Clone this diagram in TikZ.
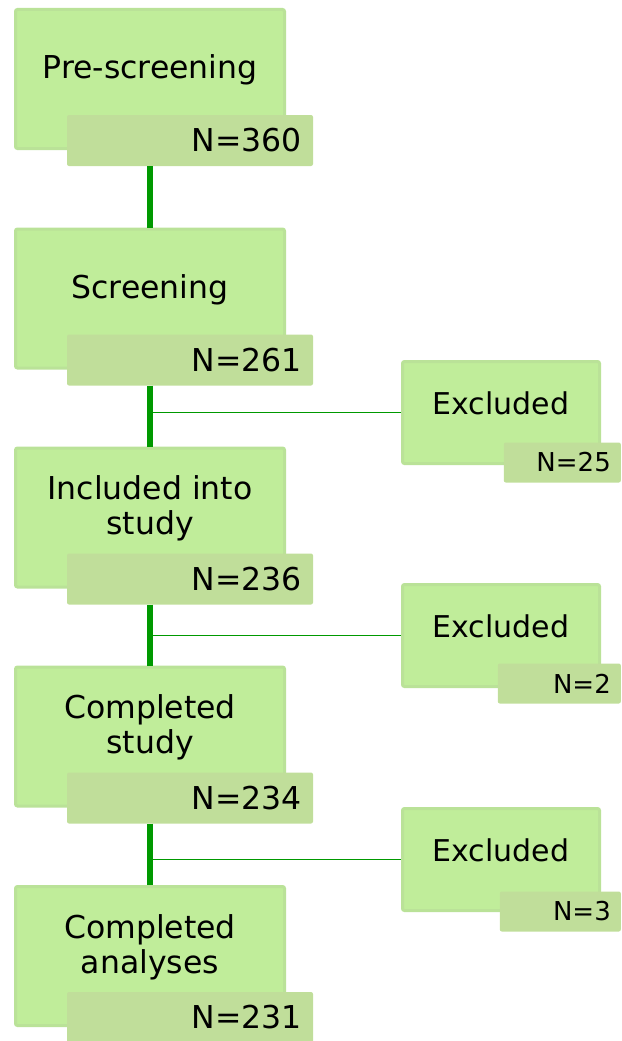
\documentclass[tikz,border=0pt]{standalone}
\usepackage{fontspec}
\setmainfont{DejaVu Sans}
\definecolor{stagegreen}{RGB}{192,237,154}
\definecolor{stageedge}{RGB}{186,226,152}
\definecolor{countgreen}{RGB}{192,222,154}
\definecolor{flowgreen}{RGB}{0,153,0}
\usetikzlibrary{positioning,calc}

\begin{document}
\begin{tikzpicture}[x=1pt, y=-1pt,
    stagebox/.style={draw=stageedge, line width=3pt, fill=stagegreen, rounded corners=2pt, minimum width=269pt, minimum height=139pt, inner sep=0pt},
    exclbox/.style={draw=stageedge, line width=3pt, fill=stagegreen, rounded corners=2pt, minimum width=197pt, minimum height=102pt, inner sep=0pt},
    stagetext/.style={font=\fontsize{31.5}{35}\selectfont, align=center},
    excltext/.style={font=\fontsize{30}{34}\selectfont, align=center},
    countbox/.style={fill=countgreen, rounded corners=2pt, minimum height=51pt, inner xsep=11pt, inner ysep=0pt, text width=224pt, align=right, font=\fontsize{31.5}{35}\selectfont},
    exclcount/.style={fill=countgreen, rounded corners=2pt, minimum height=40pt, inner xsep=10pt, inner ysep=0pt, text width=#1, align=right, anchor=east, font=\fontsize{26}{29}\selectfont},
    spine/.style={draw=flowgreen, line width=5.5pt},
    branch/.style={draw=flowgreen, line width=1.8pt}]
    \useasboundingbox (0,0) rectangle (621,1041);

    % Stages
    \node[stagebox] (pre) at (150,79) {};
    \node[stagebox] (scr) at (150,298.5) {};
    \node[stagebox] (inc) at (150,517.5) {};
    \node[stagebox] (comp) at (150,736.5) {};
    \node[stagebox] (ana) at (150,956) {};

    \node[stagetext] (pretxt) at ([yshift=9pt]pre.center) {Pre-screening};
    \node[stagetext] (scrtxt) at ([yshift=9pt]scr.center) {Screening};
    \node[stagetext] (inctxt) at ([yshift=9pt]inc.center) {Included into\\study};
    \node[stagetext] (comptxt) at ([yshift=9pt]comp.center) {Completed\\study};
    \node[stagetext] (anatxt) at ([yshift=9pt]ana.center) {Completed\\analyses};

    % Counts
    \node[countbox] (n360) at (190,140.5) {N=360};
    \node[countbox] (n261) at (190,360) {N=261};
    \node[countbox] (n236) at (190,579) {N=236};
    \node[countbox] (n234) at (190,798) {N=234};
    \node[countbox] (n231) at (190,1017.5) {N=231};

    % Exclusions
    \node[exclbox] (exA) at (501,412.5) {};
    \node[exclbox] (exB) at (501,635.5) {};
    \node[exclbox] (exC) at (501,859.5) {};

    \node[excltext] (exAtxt) at ([yshift=9pt]exA.center) {Excluded};
    \node[excltext] (exBtxt) at ([yshift=9pt]exB.center) {Excluded};
    \node[excltext] (exCtxt) at ([yshift=9pt]exC.center) {Excluded};

    \node[exclcount=97pt] (n25) at (621,462.5) {N=25};
    \node[exclcount=103pt] (n2) at (621,683.5) {N=2};
    \node[exclcount=101pt] (n3) at (621,911.5) {N=3};

    % Flow lines
    \draw[spine] (pre.center |- n360.south) -- (scr.north);
    \draw[spine] (scr.center |- n261.south) -- (inc.north);
    \draw[spine] (inc.center |- n236.south) -- (comp.north);
    \draw[spine] (comp.center |- n234.south) -- (ana.north);

    \coordinate (jA) at (scr.center |- exA.west);
    \coordinate (jB) at (inc.center |- exB.west);
    \coordinate (jC) at (comp.center |- exC.west);
    \draw[branch] (jA) -- (exA.west);
    \draw[branch] (jB) -- (exB.west);
    \draw[branch] (jC) -- (exC.west);
\end{tikzpicture}
\end{document}
